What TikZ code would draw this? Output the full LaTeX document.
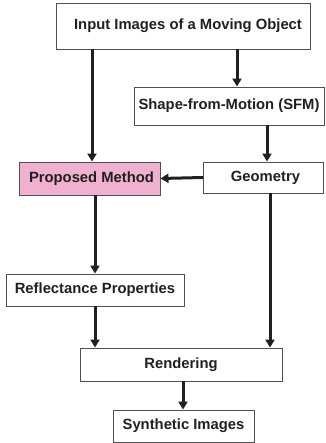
\documentclass[tikz,border=0pt]{standalone}
\usepackage{fontspec}
\setmainfont{Liberation Sans}
\usetikzlibrary{arrows.meta}
\definecolor{inkline}{RGB}{35,31,32}
\definecolor{boxedge}{RGB}{80,80,80}
\definecolor{pinkfill}{RGB}{240,176,208}
\tikzset{
  stepbox/.style={draw=boxedge, line width=0.9pt, fill=white, inner sep=0pt,
    font=\bfseries\fontsize{14.8}{17}\selectfont, text=inkline},
  arr/.style={draw=inkline, line width=3pt,
    -{Triangle[length=8pt,width=9pt]}, shorten >=0pt}
}
\begin{document}
\begin{tikzpicture}[x=1pt,y=-1pt]
\useasboundingbox (0,0) rectangle (325,443);
% process boxes
\node[stepbox, minimum width=254pt, minimum height=46pt] (input) at (183,26) {\hspace*{10pt}Input Images of a Moving Object};
\node[stepbox, minimum width=190pt, minimum height=38pt] (sfm) at (229,106) {Shape-from-Motion (SFM)};
\node[stepbox, fill=pinkfill, minimum width=141pt, minimum height=33pt] (prop) at (89.5,178.5) {\hspace*{4pt}Proposed Method};
\node[stepbox, minimum width=120pt, minimum height=31pt] (geom) at (263.5,177.5) {\hspace*{4pt}Geometry};
\node[stepbox, minimum width=178pt, minimum height=32pt] (refl) at (95,290) {Reflectance Properties};
\node[stepbox, minimum width=202pt, minimum height=33pt] (rend) at (181,364.5) {Rendering};
\node[stepbox, minimum width=141pt, minimum height=32pt] (synth) at (183.5,426) {Synthetic Images};
% vertical guide positions of the connectors
\coordinate (c1) at (92,0);
\coordinate (c2) at (237,0);
\coordinate (c3) at (267,0);
\coordinate (c4) at (95,0);
\coordinate (c5) at (270,0);
\coordinate (c6) at (183,0);
% connectors
\draw[arr] (input.south -| c1) -- (prop.north -| c1);
\draw[arr] (input.south -| c2) -- (sfm.north -| c2);
\draw[arr] (sfm.south -| c3) -- (geom.north -| c3);
\draw[arr] (geom.west) -- (prop.east);
\draw[arr] (prop.south -| c4) -- (refl.north -| c4);
\draw[arr] (refl.south -| c4) -- (rend.north -| c4);
\draw[arr] (geom.south -| c5) -- (rend.north -| c5);
\draw[arr] (rend.south -| c6) -- (synth.north -| c6);
\end{tikzpicture}
\end{document}
